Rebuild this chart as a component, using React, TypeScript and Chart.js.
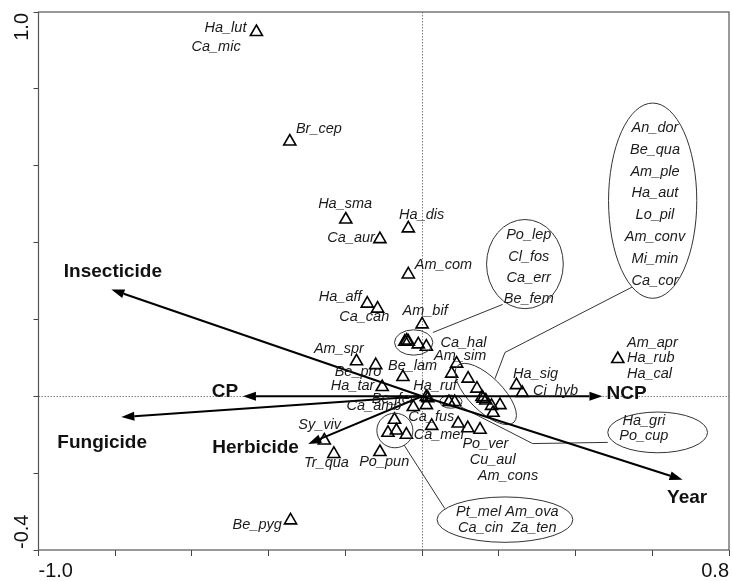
import { useEffect, useRef } from "react";
import { Chart, registerables } from "chart.js";

Chart.register(...registerables);

// ---- axes ----
const xRange = [-1.0, 0.8];
const yRange = [-0.4, 1.0];
const xTickLabels = ["-1.0", "0.8"];
const yTickLabels = ["-0.4", "1.0"];

// ---- species scores (triangles) ----
const speciesX = [
  -0.432, -0.345, -0.199, -0.110, -0.036, -0.036, -0.143, -0.116, 0.000, -0.045,
  -0.036, -0.040, -0.010, 0.011, -0.171, -0.121, -0.050, -0.104, 0.090, 0.077,
  0.011, 0.015, -0.023, 0.011, 0.070, 0.085, 0.025, 0.094, 0.119, 0.151,
  -0.072, -0.089, -0.067, -0.041, -0.255, -0.230, -0.110, -0.343, 0.120, 0.143,
  0.159, 0.156, 0.166, 0.181, 0.203, 0.185, 0.246, 0.261, 0.510,
];
const speciesY = [
  0.948, 0.663, 0.460, 0.409, 0.437, 0.317, 0.241, 0.228, 0.187, 0.142,
  0.142, 0.145, 0.135, 0.129, 0.091, 0.081, 0.050, 0.024, 0.085, 0.059,
  -0.002, -0.005, -0.028, -0.023, -0.015, -0.015, -0.077, -0.071, -0.083, -0.087,
  -0.061, -0.095, -0.089, -0.100, -0.115, -0.150, -0.145, -0.323, 0.046, 0.020,
  -0.006, -0.002, -0.011, -0.025, -0.023, -0.043, 0.029, 0.009, 0.097,
];

// ---- environmental variables (arrows) ----
const arrowNames = ["Insecticide", "CP", "Fungicide", "Herbicide", "NCP", "Year"];
const arrowX = [-0.810, -0.467, -0.784, -0.297, 0.470, 0.679];
const arrowY = [0.278, 0.0, -0.054, -0.124, 0.0, -0.217];

// ---- label layout (data coordinates) ----
const arrowLabelX = [-0.806, -0.514, -0.834, -0.434, 0.533, 0.691];
const arrowLabelY = [0.323, 0.0125, -0.120, -0.135, 0.0065, -0.265];

type Lab = [string, number, number, "left" | "right"];
const speciesLabels: Lab[] = [
  ["Ha_lut", -0.458, 0.958, "right"],
  ["Ca_mic", -0.473, 0.910, "right"],
  ["Br_cep", -0.329, 0.695, "left"],
  ["Ha_sma", -0.271, 0.500, "left"],
  ["Ca_aur", -0.123, 0.413, "right"],
  ["Ha_dis", -0.060, 0.471, "left"],
  ["Am_com", -0.019, 0.341, "left"],
  ["Ha_aff", -0.158, 0.258, "right"],
  ["Ca_can", -0.216, 0.206, "left"],
  ["Am_bif", -0.051, 0.222, "left"],
  ["Ca_hal", 0.048, 0.139, "left"],
  ["Am_sim", 0.031, 0.104, "left"],
  ["Am_spr", -0.282, 0.122, "left"],
  ["Be_pro", -0.228, 0.063, "left"],
  ["Be_lam", -0.089, 0.078, "left"],
  ["Ha_tar", -0.238, 0.026, "left"],
  ["Ha_ruf", -0.023, 0.026, "left"],
  ["Be_fer", -0.131, -0.006, "left"],
  ["Ca_amb", -0.197, -0.024, "left"],
  ["Ca_fus", -0.036, -0.053, "left"],
  ["Ca_mel", -0.022, -0.100, "left"],
  ["Po_ver", 0.105, -0.124, "left"],
  ["Cu_aul", 0.124, -0.165, "left"],
  ["Am_cons", 0.145, -0.208, "left"],
  ["Sy_viv", -0.323, -0.074, "left"],
  ["Tr_qua", -0.308, -0.174, "left"],
  ["Po_pun", -0.164, -0.172, "left"],
  ["Be_pyg", -0.494, -0.335, "left"],
  ["Ha_sig", 0.237, 0.057, "left"],
  ["Ci_hyb", 0.289, 0.015, "left"],
  ["Am_apr", 0.534, 0.140, "left"],
  ["Ha_rub", 0.534, 0.099, "left"],
  ["Ha_cal", 0.534, 0.057, "left"],
];

const ellipses = [
  { cx: 0.601, cy: 0.509, rx: 0.115, ry: 0.254, rot: 0 },
  { cx: 0.268, cy: 0.344, rx: 0.100, ry: 0.116, rot: 0 },
  { cx: 0.614, cy: -0.094, rx: 0.130, ry: 0.053, rot: 0 },
  { cx: 0.216, cy: -0.321, rx: 0.177, ry: 0.059, rot: 0 },
  { cx: -0.022, cy: 0.140, rx: 0.050, ry: 0.033, rot: 0 },
  { cx: 0.075, cy: -0.014, rx: 0.029, ry: 0.017, rot: 0 },
  { cx: -0.071, cy: -0.089, rx: 0.047, ry: 0.045, rot: 0 },
  { cx: 0.166, cy: 0.006, rx: 0.104, ry: 0.044, rot: 45 },
];

const blocks = [
  { lines: ["An_dor", "Be_qua", "Am_ple", "Ha_aut", "Lo_pil", "Am_conv", "Mi_min", "Ca_cor"], x: 0.607, y: 0.698, gap: 21.8 },
  { lines: ["Po_lep", "Cl_fos", "Ca_err", "Be_fem"], x: 0.278, y: 0.419, gap: 21.3 },
  { lines: ["Ha_gri", "Po_cup"], x: 0.578, y: -0.063, gap: 15.5 },
  { lines: ["Pt_mel Am_ova", "Ca_cin  Za_ten"], x: 0.222, y: -0.300, gap: 16 },
];

const connectors = [
  [[0.028, 0.166], [0.210, 0.239]],
  [[0.190, 0.046], [0.216, 0.114], [0.547, 0.284]],
  [[0.098, -0.026], [0.288, -0.123], [0.484, -0.120]],
  [[-0.047, -0.127], [0.059, -0.292]],
];

const FF = "'Liberation Sans', Arial, Helvetica, sans-serif";

const overlay = {
  id: "overlay",
  beforeDatasetsDraw(chart: any) {
    const { ctx, chartArea: a, scales } = chart;
    const sx = scales.x, sy = scales.y;
    ctx.save();
    ctx.strokeStyle = "#808080";
    ctx.lineWidth = 1;
    ctx.setLineDash([1.5, 1.5]);
    const x0 = Math.round(sx.getPixelForValue(0)) + 0.5;
    const y0 = Math.round(sy.getPixelForValue(0)) + 0.5;
    ctx.beginPath();
    ctx.moveTo(x0, a.top);
    ctx.lineTo(x0, a.bottom);
    ctx.moveTo(a.left, y0);
    ctx.lineTo(a.right, y0);
    ctx.stroke();
    ctx.setLineDash([]);
    ctx.strokeStyle = "#555";
    ctx.lineWidth = 1.2;
    ctx.strokeRect(a.left, a.top, a.right - a.left, a.bottom - a.top);
    ctx.restore();
  },
  afterDatasetsDraw(chart: any) {
    const { ctx, scales } = chart;
    const sx = scales.x, sy = scales.y;
    const px = (v: number) => sx.getPixelForValue(v);
    const py = (v: number) => sy.getPixelForValue(v);
    const kx = Math.abs(px(1) - px(0));
    const ky = Math.abs(py(1) - py(0));
    ctx.save();

    // ellipses
    ctx.strokeStyle = "#333";
    ctx.lineWidth = 1;
    ellipses.forEach((e) => {
      ctx.beginPath();
      ctx.ellipse(px(e.cx), py(e.cy), e.rx * kx, e.ry * ky, (e.rot * Math.PI) / 180, 0, Math.PI * 2);
      ctx.stroke();
    });
    // connectors
    connectors.forEach((c) => {
      ctx.beginPath();
      c.forEach((p, i) => (i === 0 ? ctx.moveTo(px(p[0]), py(p[1])) : ctx.lineTo(px(p[0]), py(p[1]))));
      ctx.stroke();
    });

    // arrows
    const ox = px(0), oy = py(0);
    ctx.strokeStyle = "#000";
    ctx.fillStyle = "#000";
    ctx.lineWidth = 2;
    arrowNames.forEach((_, i) => {
      const x1 = px(arrowX[i]), y1 = py(arrowY[i]);
      const ang = Math.atan2(y1 - oy, x1 - ox);
      const L = 13, W = 4.5;
      const bx = x1 - L * Math.cos(ang), by = y1 - L * Math.sin(ang);
      ctx.beginPath();
      ctx.moveTo(ox, oy);
      ctx.lineTo(bx, by);
      ctx.stroke();
      ctx.beginPath();
      ctx.moveTo(x1, y1);
      ctx.lineTo(bx + W * Math.sin(ang), by - W * Math.cos(ang));
      ctx.lineTo(bx - W * Math.sin(ang), by + W * Math.cos(ang));
      ctx.closePath();
      ctx.fill();
    });

    // arrow labels
    ctx.font = `bold 19px ${FF}`;
    ctx.textAlign = "center";
    ctx.textBaseline = "middle";
    ctx.fillStyle = "#111";
    arrowNames.forEach((n, i) => ctx.fillText(n, px(arrowLabelX[i]), py(arrowLabelY[i])));

    // species labels
    ctx.font = `italic 14.5px ${FF}`;
    ctx.fillStyle = "#1a1a1a";
    speciesLabels.forEach(([t, x, y, al]) => {
      ctx.textAlign = al;
      ctx.fillText(t, px(x), py(y));
    });
    ctx.textAlign = "center";
    blocks.forEach((b) => {
      b.lines.forEach((l, i) => ctx.fillText(l, px(b.x), py(b.y) + i * b.gap));
    });

    // y tick labels (rotated)
    ctx.font = `20px ${FF}`;
    ctx.fillStyle = "#111";
    ctx.textBaseline = "middle";
    [yRange[0], yRange[1]].forEach((v, i) => {
      ctx.save();
      ctx.translate(22, py(v));
      ctx.rotate(-Math.PI / 2);
      ctx.textAlign = i === 0 ? "left" : "right";
      ctx.fillText(yTickLabels[i], i === 0 ? 1 : -1, 0);
      ctx.restore();
    });
    ctx.restore();
  },
};

export default function App() {
  const ref = useRef<HTMLCanvasElement>(null);
  useEffect(() => {
    const chart = new Chart(ref.current as HTMLCanvasElement, {
      type: "scatter",
      data: {
        datasets: [
          {
            data: speciesX.map((x, i) => ({ x, y: speciesY[i] })),
            pointStyle: "triangle",
            pointRadius: 7,
            pointHoverRadius: 7,
            borderColor: "#000",
            backgroundColor: "rgba(0,0,0,0)",
            borderWidth: 1.6,
            clip: false,
          },
        ],
      },
      options: {
        responsive: false,
        animation: false,
        events: [],
        layout: { autoPadding: false, padding: { left: 0, top: 12, right: 3, bottom: 0 } },
        plugins: { legend: { display: false }, tooltip: { enabled: false } },
        scales: {
          x: {
            type: "linear",
            min: xRange[0],
            max: xRange[1],
            afterFit: (s: any) => {
              s.height = 31;
              s.paddingLeft = 0;
              s.paddingRight = 0;
            },
            border: { display: false },
            grid: { drawOnChartArea: false, drawTicks: true, tickLength: 6, color: "#444" },
            ticks: {
              stepSize: 0.2,
              autoSkip: false,
              maxRotation: 0,
              align: "inner",
              padding: 3,
              color: "#111",
              font: { family: FF, size: 20 },
              callback: (v: any) => {
                const n = Number(v);
                if (Math.abs(n - xRange[0]) < 1e-6) return xTickLabels[0];
                if (Math.abs(n - xRange[1]) < 1e-6) return xTickLabels[1];
                return "";
              },
            },
          },
          y: {
            type: "linear",
            min: yRange[0],
            max: yRange[1],
            afterFit: (s: any) => {
              s.width = 38.5;
              s.paddingTop = 0;
              s.paddingBottom = 0;
            },
            border: { display: false },
            grid: { drawOnChartArea: false, drawTicks: true, tickLength: 5, color: "#444" },
            ticks: { display: false, stepSize: 0.2 },
          },
        },
      } as any,
      plugins: [overlay],
    });
    return () => chart.destroy();
  }, []);
  return (
    <div style={{ position: "fixed", left: 0, top: 0, width: 732, height: 581, background: "#fff" }}>
      <canvas ref={ref} width={732} height={581} style={{ display: "block" }} />
    </div>
  );
}
